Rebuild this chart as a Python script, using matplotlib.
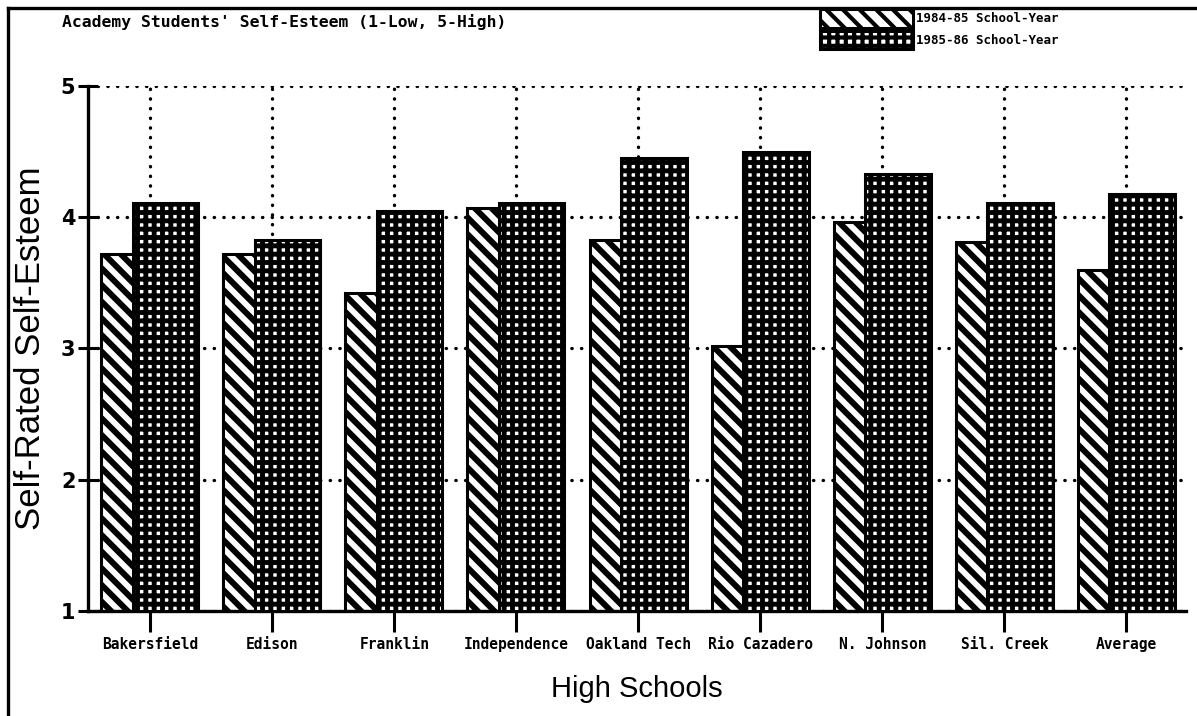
import numpy as np
import matplotlib
matplotlib.use("Agg")
import matplotlib.pyplot as plt
from matplotlib.lines import Line2D

schools = ["Bakersfield", "Edison", "Franklin", "Independence", "Oakland Tech",
           "Rio Cazadero", "N. Johnson", "Sil. Creek", "Average"]
year_1984 = [3.72, 3.72, 3.42, 4.07, 3.83, 3.02, 3.96, 3.81, 3.60]
year_1985 = [4.11, 3.83, 4.05, 4.11, 4.45, 4.50, 4.33, 4.11, 4.18]
labels = ["1984-85 School-Year", "1985-86 School-Year"]

plt.rcParams['hatch.linewidth'] = 3.0

fig = plt.figure(figsize=(11.97, 7.16), dpi=100)
ax = fig.add_axes([0.0735, 0.1466, 0.9175, 0.7334])

x = np.arange(len(schools))
w = 0.54
with plt.rc_context({'hatch.linewidth': 4.3}):
    b1 = ax.bar(x - 0.40, np.array(year_1984) - 1, w, bottom=1, align='edge',
                facecolor='white', edgecolor='black', hatch='\\\\', linewidth=2.2,
                zorder=2, label=labels[0])
with plt.rc_context({'hatch.linewidth': 3.5}):
    b2 = ax.bar(x - 0.145, np.array(year_1985) - 1, w, bottom=1, align='edge',
                facecolor='white', edgecolor='black', hatch='++', linewidth=2.2,
                zorder=3, label=labels[1])

ax.set_xlim(-0.51, 8.49)
ax.set_ylim(1, 5)
ax.set_axisbelow(True)
ax.grid(True, color='black', linewidth=2.4, linestyle=(0, (0.1, 2.8)),
        dash_capstyle='round')

for s in ['top', 'right']:
    ax.spines[s].set_visible(False)
for s in ['left', 'bottom']:
    ax.spines[s].set_linewidth(2.4)

ax.set_yticks([1, 2, 3, 4, 5])
ax.set_yticklabels(['1', '2', '3', '4', '5'], fontsize=15, fontweight='bold')
ax.tick_params(axis='y', direction='inout', length=14, width=2.2, pad=2)
ax.set_xticks(x)
ax.set_xticklabels(schools, family='DejaVu Sans Mono', fontsize=10.5,
                   fontweight='bold')
ax.tick_params(axis='x', direction='out', length=15, width=2.2, pad=4)

ax.set_xlabel("High Schools", family='Liberation Sans', fontsize=21, labelpad=16)
ax.set_ylabel("Self-Rated Self-Esteem", family='Liberation Sans', fontsize=25,
              labelpad=10)

fig.text(62 / 1197, 1 - 22 / 716, "Academy Students' Self-Esteem (1-Low, 5-High)",
         family='DejaVu Sans Mono', fontsize=11.8, fontweight='bold',
         va='center', ha='left')

fig.legend(handles=[b1, b2], labels=labels, loc='upper left',
           bbox_to_anchor=(820 / 1197, 1 - 9 / 716), frameon=False,
           prop={'family': 'DejaVu Sans Mono', 'weight': 'bold', 'size': 9},
           handlelength=7.4, handleheight=1.9, handletextpad=0.3,
           labelspacing=0.25, borderpad=0, borderaxespad=0)

# outer frame: left and top edges of the picture
fig.add_artist(Line2D([8 / 1197, 8 / 1197], [0, 1 - 8 / 716], color='black',
                      linewidth=2.4, transform=fig.transFigure))
fig.add_artist(Line2D([8 / 1197, 1], [1 - 8 / 716, 1 - 8 / 716], color='black',
                      linewidth=2.4, transform=fig.transFigure))

fig.savefig("out.png", dpi=100)
